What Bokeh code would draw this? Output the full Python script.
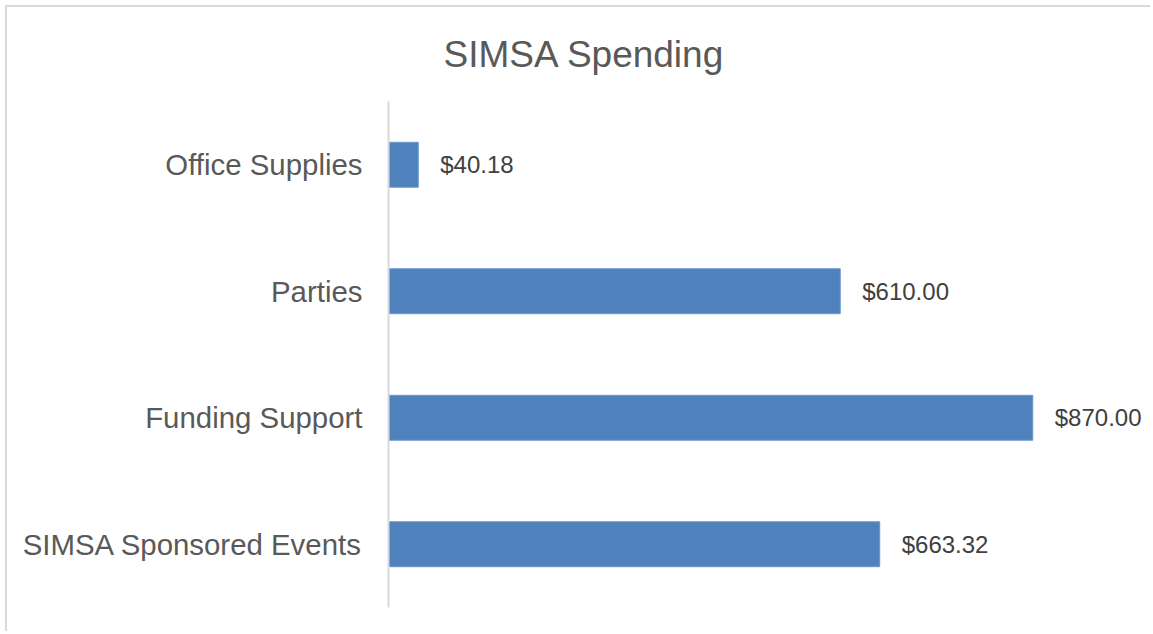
from bokeh.plotting import figure
from bokeh.models import FactorRange, Range1d, ColumnDataSource, LabelSet
from bokeh.core.properties import value
from bokeh.embed import file_html
from bokeh.resources import INLINE

categories = ["Office Supplies", "Parties", "Funding Support", "SIMSA Sponsored Events"]
values = [40.18, 610.00, 870.00, 663.32]
value_labels = ["$40.18", "$610.00", "$870.00", "$663.32"]

FONT = "Liberation Sans"

source = ColumnDataSource(dict(cat=categories, val=values, lab=value_labels))

# frame 381..1143 px wide (762 px) ; 1000 units == 740 px
p = figure(
    width=1145, height=626,
    y_range=FactorRange(factors=list(reversed(categories)), range_padding=0),
    x_range=Range1d(0, 1029),
    output_backend="svg", toolbar_location=None,
    min_border_left=381, min_border_right=2, min_border_top=94, min_border_bottom=26,
    title="SIMSA Spending",
)
p.styles = {"margin-left": "5px", "margin-top": "5px",
            "border-left": "2px solid #d9d9d9", "border-top": "2px solid #d9d9d9"}

p.hbar(y="cat", right="val", left=0, height=0.355, source=source,
       fill_color="#4F81BD", line_color="#6A96CC", line_width=1)

labels = LabelSet(x="val", y="cat", text="lab", source=source, x_offset=22,
                  text_baseline="middle", text_font=value(FONT), text_font_size="24px",
                  text_color="#404040")
p.add_layout(labels)

p.title.align = "left"
p.title.offset = 55
p.title.standoff = 50
p.title.vertical_align = "top"
p.title.text_font = FONT
p.title.text_font_size = "37px"
p.title.text_font_style = "normal"
p.title.text_color = "#595959"

p.xaxis.visible = False
p.xgrid.visible = False
p.ygrid.visible = False
p.outline_line_color = None

ax = p.yaxis[0]
ax.axis_line_color = "#d9d9d9"
ax.axis_line_width = 2
ax.major_tick_line_color = None
ax.minor_tick_line_color = None
ax.major_tick_out = 0
ax.major_tick_in = 0
ax.major_label_standoff = 26
ax.major_label_text_font = FONT
ax.major_label_text_font_size = "29.4px"
ax.major_label_text_color = "#595959"

open("out.html", "w").write(file_html(p, INLINE))
